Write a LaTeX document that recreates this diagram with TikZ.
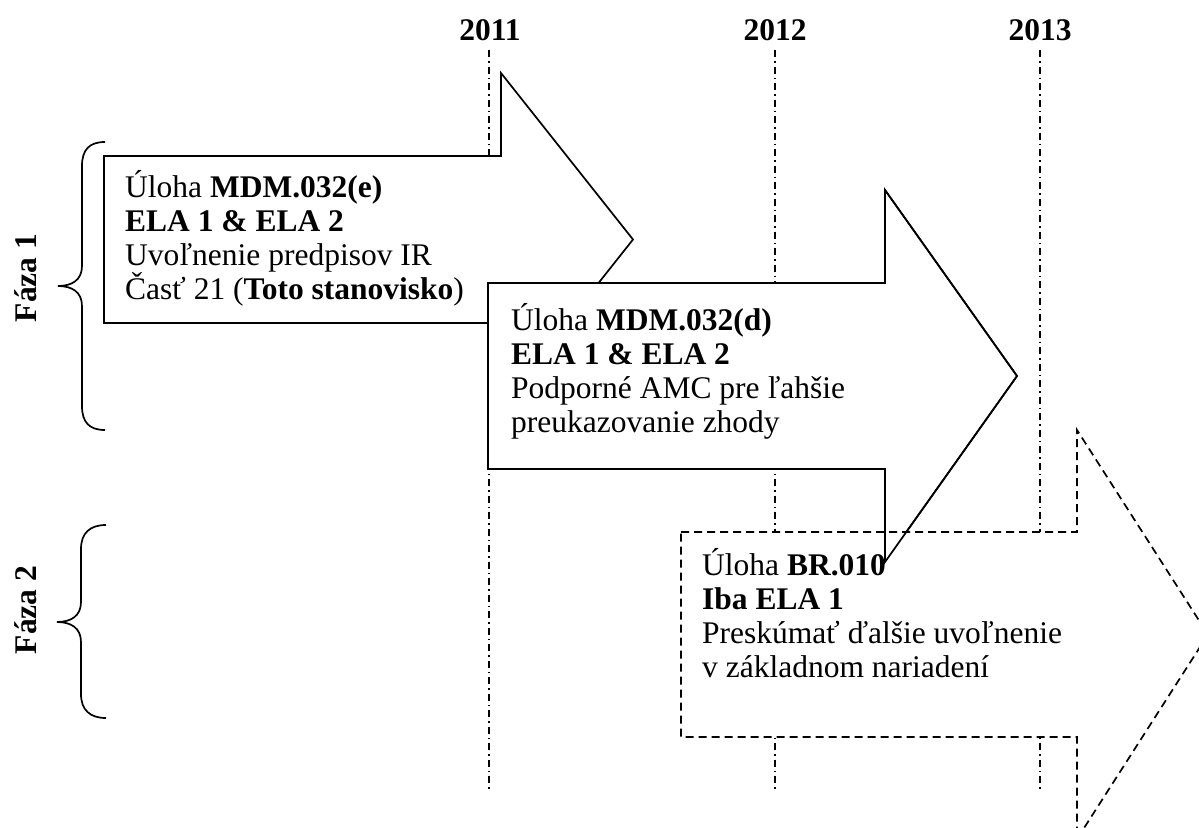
\documentclass[tikz,border=0pt]{standalone}
\usepackage{fontspec}
\setmainfont{Liberation Serif}
\newcommand\mylines[1]{\vtop{\baselineskip=34pt\relax #1}}
\begin{document}
\begin{tikzpicture}[x=1pt,y=-1pt,
  arrowline/.style={line width=1.7pt, fill=white, line join=miter},
  arrowedge/.style={line width=1.7pt, line join=miter},
  dashedarrow/.style={line width=1.7pt, fill=white, dash pattern=on 8pt off 5pt},
  yearline/.style={line width=1.5pt, dash pattern=on 7pt off 4pt on 1.5pt off 4pt},
  bracepath/.style={line width=1.7pt},
  bodytext/.style={inner sep=0pt, anchor=base west, font=\fontsize{31.5}{34}\selectfont},
  yeartext/.style={inner sep=0pt, anchor=base, font=\fontsize{31.5}{34}\selectfont\bfseries},
  phasetext/.style={inner sep=0pt, anchor=base, rotate=90, font=\fontsize{31.5}{34}\selectfont\bfseries}]
\useasboundingbox (0,0) rectangle (1199,827);
\clip (0,0) rectangle (1199,827);

% year labels and lines
\node[yeartext] (y2011) at (490,40) {2011};
\node[yeartext] (y2012) at (775,40) {2012};
\node[yeartext] (y2013) at (1040,40) {2013};
\draw[yearline] (489,50) -- (489,790);
\draw[yearline] (775,50) -- (775,790);
\draw[yearline] (1040,50) -- (1040,790);

% arrow 1
\draw[arrowline] (104,156) -- (501,156) -- (501,73) -- (633,239.5) -- (501,406) -- (501,323) -- (104,323) -- cycle;
% arrow 2
\draw[arrowline] (488,283) -- (885,283) -- (885,190) -- (1017,376) -- (885,562) -- (885,469) -- (488,469) -- cycle;
% arrow 3 (dashed)
\filldraw[dashedarrow] (681,532) -- (1077,532) -- (1077,430) -- (1208,634.5) -- (1077,839) -- (1077,737) -- (681,737) -- cycle;
% arrow 2 outline over arrow 3
\draw[arrowedge] (488,283) -- (885,283) -- (885,190) -- (1017,376) -- (885,562) -- (885,469) -- (488,469) -- cycle;

% texts
\node[bodytext] (t1) at (125,197) {\mylines{%
  \hbox{Úloha \textbf{MDM.032(e)}}%
  \hbox{\textbf{ELA 1 \& ELA 2}}%
  \hbox{Uvoľnenie predpisov IR}%
  \hbox{Časť 21 (\textbf{Toto stanovisko})}}};
\node[bodytext] (t2) at (511,330) {\mylines{%
  \hbox{Úloha \textbf{MDM.032(d)}}%
  \hbox{\textbf{ELA 1 \& ELA 2}}%
  \hbox{Podporné AMC pre ľahšie}%
  \hbox{preukazovanie zhody}}};
\node[bodytext] (t3) at (702,575) {\mylines{%
  \hbox{Úloha \textbf{BR.010}}%
  \hbox{\textbf{Iba ELA 1}}%
  \hbox{Preskúmať ďalšie uvoľnenie}%
  \hbox{v základnom nariadení}}};

% braces
\draw[bracepath] (105,142) .. controls (89,142) and (82,150) .. (82,166) -- (82,266)
  .. controls (82,280) and (72,286) .. (58,286)
  .. controls (72,286) and (82,292) .. (82,306) -- (82,406)
  .. controls (82,422) and (89,430) .. (105,430);
\draw[bracepath] (106,525) .. controls (90,525) and (81,533) .. (81,549) -- (81,602)
  .. controls (81,616) and (71,622) .. (57,622)
  .. controls (71,622) and (81,628) .. (81,642) -- (81,694)
  .. controls (81,710) and (90,718) .. (106,718);
\node[phasetext] (f1) at (36,278) {Fáza 1};
\node[phasetext] (f2) at (36,610) {Fáza 2};
\end{tikzpicture}
\end{document}
